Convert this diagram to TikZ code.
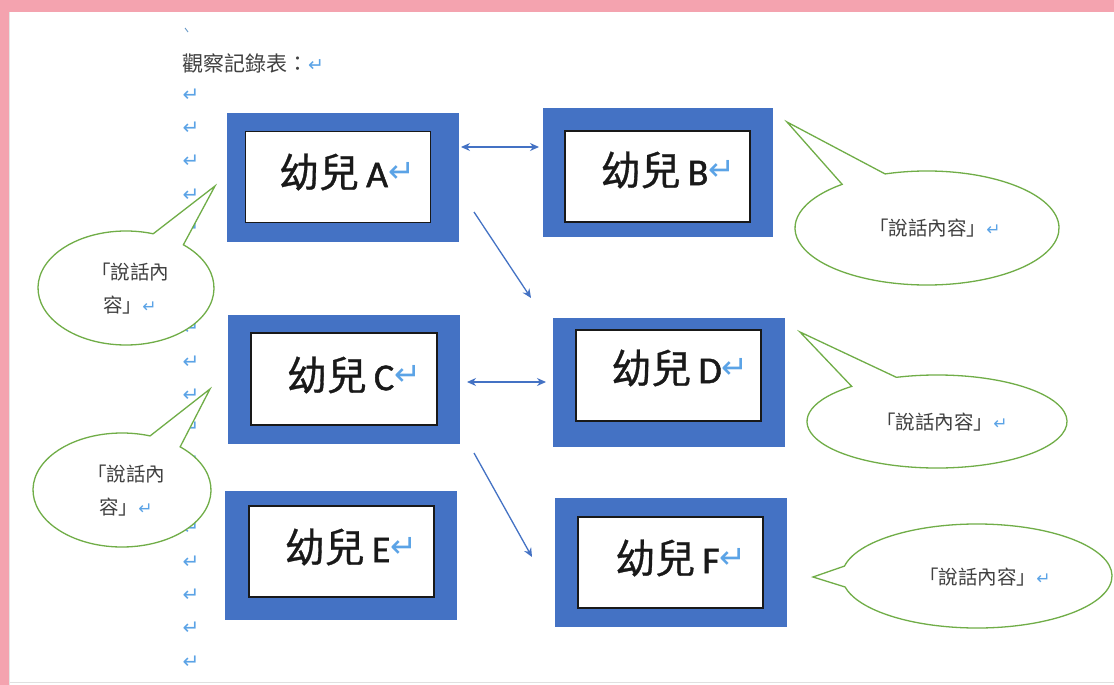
\documentclass[tikz,border=0pt]{standalone}
\usepackage{fontspec}
\newfontfamily\cjk{Noto Sans CJK TC}
\newfontfamily\cjkb[FakeBold=0.8]{Noto Sans CJK TC}
\newfontfamily\latf[FakeBold=1.2]{Carlito}
\newfontfamily\symf{DejaVu Sans}
\usetikzlibrary{arrows.meta,calc}
\definecolor{pinkbg}{HTML}{F4A3AF}
\definecolor{boxblue}{HTML}{4472C4}
\definecolor{bubgreen}{HTML}{70AD47}
\definecolor{retblue}{HTML}{5BA3E6}
\definecolor{txtgray}{HTML}{404040}
\newcommand{\retmk}[1]{{\symf\color{retblue}\fontsize{#1}{#1}\selectfont ↵}}
\newcommand{\kidlabel}[1]{{\cjkb\fontsize{40}{42}\selectfont 幼兒}\hspace{7pt}{\latf\fontsize{38}{42}\selectfont #1}\raisebox{5pt}{\retmk{32}}}
\newcommand{\bubblepath}[8]{%
  \draw[bubble] ({#1+#3*cos(#5)},{#2+#4*sin(#5)}) arc[start angle={-(#5)},end angle={-(#6)},x radius=#3pt,y radius=#4pt] -- (#7,#8) -- cycle;}
\tikzset{
  outerbox/.style={fill=boxblue, draw=none, inner sep=0pt, minimum width=232pt, minimum height=129pt},
  innerbox/.style={fill=white, draw=black!90, line width=1.2pt, inner sep=0pt, minimum width=185pt, minimum height=91pt},
  kidtext/.style={inner sep=0pt, text=black!90},
  bubble/.style={draw=bubgreen, line width=1.3pt, fill=white, line join=miter},
  bubtext/.style={inner sep=0pt, text=txtgray, align=center, font=\cjk\fontsize{19.5}{33}\selectfont},
  retmark/.style={inner sep=0pt, text=retblue, font=\symf\fontsize{20}{20}\selectfont},
  conn/.style={draw=boxblue, line width=1.3pt, -{Stealth[length=9pt,width=8pt]}},
  conn2/.style={draw=boxblue, line width=1.3pt, {Stealth[length=9pt,width=8pt]}-{Stealth[length=9pt,width=8pt]}}
}
\begin{document}
\begin{tikzpicture}[x=1pt,y=-1pt]
\useasboundingbox (0,0) rectangle (1114,685);
% page
\fill[pinkbg] (0,0) rectangle (1114,685);
\fill[white] (9,12) rectangle (1114,685);
\draw[black!12, line width=0.8pt] (9,682) -- (1114,682);
\draw[black!10, line width=1pt] (9.5,12) -- (9.5,685);
% small tick
\draw[retblue!70!gray, line width=0.9pt] (185,28) -- (188,32);
% title
\node[anchor=west, inner sep=0pt, text=txtgray] (title) at (182,63) {{\cjk\fontsize{21}{24}\selectfont 觀察記錄表：}\retmk{19}};
% paragraph marks
\foreach \i in {0,...,17} {
  \node[retmark] (r\i) at (191,{95+33.35*\i}) {↵};
}
% boxes
\node[outerbox] (A) at (343,177) {};
\node[innerbox] (Ai) at (338,177) {};
\node[kidtext] (At) at (347,172) {\kidlabel{A}};
\node[outerbox, minimum width=230pt] (B) at (658,172.5) {};
\node[innerbox] (Bi) at (657.5,176.5) {};
\node[kidtext] (Bt) at (668,170) {\kidlabel{B}};
\node[outerbox] (C) at (344,379.5) {};
\node[innerbox, minimum width=186pt, minimum height=92pt] (Ci) at (344,379) {};
\node[kidtext] (Ct) at (354,375) {\kidlabel{C}};
\node[outerbox] (D) at (669,382.5) {};
\node[innerbox] (Di) at (668.5,375.5) {};
\node[kidtext] (Dt) at (680,368) {\kidlabel{D}};
\node[outerbox] (E) at (341,555.5) {};
\node[innerbox] (Ei) at (341.5,551.5) {};
\node[kidtext] (Et) at (351,547) {\kidlabel{E}};
\node[outerbox] (F) at (671,562.5) {};
\node[innerbox] (Fi) at (670.5,562.5) {};
\node[kidtext] (Ft) at (681,558) {\kidlabel{F}};
% connectors
\coordinate (ab1) at (461,147);
\coordinate (ab2) at (539,147);
\coordinate (ad1) at (474,212);
\coordinate (ad2) at (531,298);
\coordinate (cd1) at (467,382);
\coordinate (cd2) at (546,382);
\coordinate (cf1) at (474,453);
\coordinate (cf2) at (532,557);
\draw[conn2] (ab1) -- (ab2);
\draw[conn] (ad1) -- (ad2);
\draw[conn2] (cd1) -- (cd2);
\draw[conn] (cf1) -- (cf2);
% bubbles
\bubblepath{126}{288}{88}{57}{-49.3}{288}{215}{186}
\node[bubtext] (s1) at (130,289) {「說話內\\容」\retmk{17}};
\bubblepath{122}{490}{89}{57}{-49.2}{288.4}{210}{389}
\node[bubtext] (s2) at (126,491) {「說話內\\容」\retmk{17}};
\bubblepath{927}{228}{132}{57}{-108.5}{230}{787}{122}
\node[bubtext] (s3) at (935,228) {「說話內容」\retmk{17}};
\bubblepath{937}{421.5}{130}{46.5}{-108.2}{229}{800}{332}
\node[bubtext] (s4) at (942,422) {「說話內容」\retmk{17}};
\bubblepath{977}{576}{135}{52}{-169}{167.8}{813}{577}
\node[bubtext] (s5) at (985,577) {「說話內容」\retmk{17}};
\end{tikzpicture}
\end{document}
